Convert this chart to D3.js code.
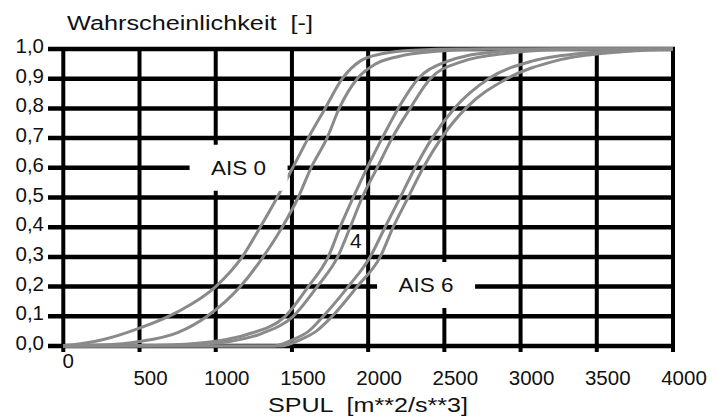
<!DOCTYPE html>
<html><head><meta charset="utf-8">
<script src="https://cdn.jsdelivr.net/npm/d3@7/dist/d3.min.js"></script>
<style>html,body{margin:0;padding:0;background:#fff}svg{display:block}text{font-family:Arial,"Liberation Sans",sans-serif;fill:#111;white-space:pre}</style>
</head><body><svg id="c" width="712" height="417"></svg>
<script>
const xTicks = [0,500,1000,1500,2000,2500,3000,3500,4000];
const xTickLabels = ["0","500","1000","1500","2000","2500","3000","3500","4000"];
const yTicks = [0,0.1,0.2,0.3,0.4,0.5,0.6,0.7,0.8,0.9,1.0];
const yTickLabels = ["0,0","0,1","0,2","0,3","0,4","0,5","0,6","0,7","0,8","0,9","1,0"];
const yTitle = "Wahrscheinlichkeit  [-]";
const xTitle = "SPUL  [m**2/s**3]";
// curves: [x, probability]
const ais0a = [[0,0],[250,0.02],[500,0.06],[750,0.115],[1000,0.2],[1174,0.3],[1292,0.4],[1403,0.5],[1505,0.6],[1607,0.7],[1718,0.8],[1830,0.9],[1950,0.96],[2100,0.985],[2300,0.996],[2600,1],[4000,1]];
const ais0b = [[0,0],[250,0.003],[500,0.015],[750,0.045],[944,0.1],[1161,0.2],[1311,0.3],[1436,0.4],[1541,0.5],[1625,0.6],[1730,0.7],[1810,0.8],[1928,0.9],[2050,0.95],[2200,0.975],[2450,0.992],[2800,1],[4000,1]];
const ais4a = [[0,0],[600,0.002],[800,0.006],[1000,0.016],[1200,0.038],[1456,0.1],[1607,0.2],[1738,0.3],[1816,0.4],[1902,0.5],[1993,0.6],[2092,0.7],[2197,0.8],[2328,0.9],[2500,0.955],[2800,0.988],[3200,1],[4000,1]];
const ais4b = [[0,0],[700,0.002],[900,0.006],[1100,0.016],[1300,0.042],[1508,0.1],[1666,0.2],[1800,0.3],[1882,0.4],[1961,0.5],[2059,0.6],[2157,0.7],[2275,0.8],[2407,0.9],[2600,0.955],[2900,0.985],[3400,1],[4000,1]];
const ais6a = [[0,0],[1380,0],[1500,0.02],[1610,0.05],[1705,0.1],[1869,0.2],[2013,0.3],[2111,0.4],[2210,0.5],[2308,0.6],[2420,0.7],[2565,0.8],[2790,0.9],[3080,0.96],[3500,0.99],[3900,1],[4000,1]];
const ais6b = [[0,0],[1430,0],[1550,0.02],[1660,0.05],[1764,0.1],[1928,0.2],[2079,0.3],[2164,0.4],[2262,0.5],[2361,0.6],[2480,0.7],[2640,0.8],[2910,0.9],[3230,0.96],[3650,0.99],[4000,1]];
const seriesList = [ais0a, ais0b, ais4a, ais4b, ais6a, ais6b];
const labels = [{t:"AIS 0", x:1150, y:0.6, box:true},{t:"AIS 6", x:2380, y:0.205, box:true},{t:"4", x:1920, y:0.355, box:false}];

const svg = d3.select("#c");
svg.append("rect").attr("width",712).attr("height",417).attr("fill","#fff");
const x = d3.scaleLinear().domain([0,4000]).range([63.3,673]);
const y = d3.scaleLinear().domain([0,1]).range([346,49]);

// vertical grid
svg.append("g").selectAll("line").data(xTicks).join("line")
  .attr("x1",d=>x(d)).attr("x2",d=>x(d)).attr("y1",y(1)-2).attr("y2",y(0)+6)
  .attr("stroke","#000").attr("stroke-width",4);
// horizontal grid
svg.append("g").selectAll("line").data(yTicks).join("line")
  .attr("x1",48).attr("x2",x(4000)+2).attr("y1",d=>y(d)).attr("y2",d=>y(d))
  .attr("stroke","#000").attr("stroke-width",4.5);

// y tick labels
svg.append("g").selectAll("text").data(yTicks).join("text")
  .attr("x",44).attr("y",d=>y(d)+4).attr("text-anchor","end")
  .attr("font-size",20.5).text((d,i)=>yTickLabels[i]);
// x tick labels
svg.append("g").selectAll("text").data(xTicks).join("text")
  .attr("x",d=>d===0?x(d)+5:x(d)+11).attr("y",d=>d===0?368:385).attr("text-anchor","middle")
  .attr("font-size",20.5).text((d,i)=>xTickLabels[i]);

svg.append("text").attr("x",67).attr("y",30).attr("font-size",20.5)
  .attr("textLength",246).attr("lengthAdjust","spacingAndGlyphs").text(yTitle);
svg.append("text").attr("x",268).attr("y",412).attr("font-size",20.5)
  .attr("textLength",200).attr("lengthAdjust","spacingAndGlyphs").text(xTitle);

const line = d3.line().x(d=>x(d[0])).y(d=>y(d[1])).curve(d3.curveMonotoneX);
svg.append("g").selectAll("path").data(seriesList).join("path")
  .attr("d",line).attr("fill","none").attr("stroke","#8a8a8a").attr("stroke-width",3);

// labels
const lg = svg.append("g");
labels.forEach(l=>{
  const cx = x(l.x), cy = y(l.y);
  if(l.box){
    lg.append("rect").attr("x",cx-49).attr("y",cy-23).attr("width",98).attr("height",46).attr("rx",6).attr("fill","#fff");
  }
  const t = lg.append("text").attr("x",cx).attr("y",cy+7).attr("text-anchor","middle").attr("font-size",21).text(l.t);
  if(l.box) t.attr("textLength",55).attr("lengthAdjust","spacingAndGlyphs");
});
</script></body></html>
